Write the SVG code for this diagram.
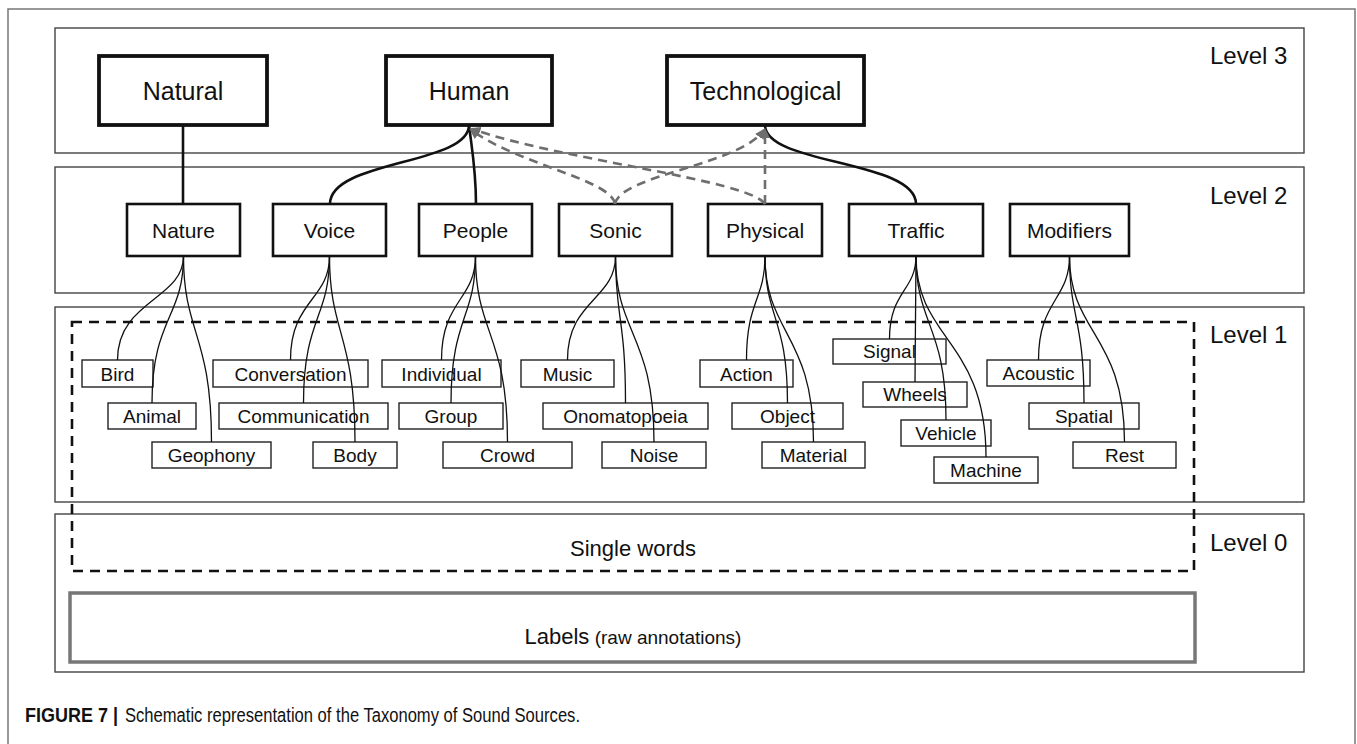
<svg xmlns="http://www.w3.org/2000/svg" width="1357" height="744" viewBox="0 0 1357 744">
<style>
text{font-family:"Liberation Sans",Arial,sans-serif;fill:#111}
.lvl{fill:none;stroke:#444;stroke-width:1.4}
.n3 rect{fill:#fff;stroke:#111;stroke-width:3.8}
.n3 text{font-size:25px;text-anchor:middle}
.n2 rect{fill:#fff;stroke:#111;stroke-width:2.6}
.n2 text{font-size:21px;text-anchor:middle}
.n1 rect{fill:#fff;stroke:#222;stroke-width:1.4}
.n1 text{font-size:19px;text-anchor:middle}
.lt{font-size:24px}
.solid{fill:none;stroke:#111;stroke-width:2.6}
.dash{fill:none;stroke:#6e6e6e;stroke-width:2.6;stroke-dasharray:9 6}
.thin{fill:none;stroke:#111;stroke-width:1.3}
</style>
<defs>
<marker id="ah" viewBox="0 0 10 10" refX="8" refY="5" markerWidth="4" markerHeight="4" orient="auto">
<path d="M0,0 L10,5 L0,10 z" fill="#6e6e6e"/>
</marker>
</defs>
<rect width="1357" height="744" fill="#fff"/>
<rect x="8" y="9" width="1347" height="760" fill="none" stroke="#777" stroke-width="1.5"/>
<g id="levels">
<rect class="lvl" x="55" y="28" width="1249" height="125"/>
<rect class="lvl" x="55" y="167" width="1249" height="126"/>
<rect class="lvl" x="55" y="307" width="1249" height="195"/>
<rect class="lvl" x="55" y="514" width="1249" height="158"/>
<text class="lt" x="1210" y="64">Level 3</text>
<text class="lt" x="1210" y="204">Level 2</text>
<text class="lt" x="1210" y="343">Level 1</text>
<text class="lt" x="1210" y="551">Level 0</text>
</g>
<g id="single-words">
<rect x="72" y="322" width="1122" height="249" fill="none" stroke="#111" stroke-width="2.6" stroke-dasharray="10 7"/>
<text x="633" y="556" font-size="22" text-anchor="middle">Single words</text>
</g>
<g id="labels">
<rect x="70" y="593" width="1125" height="69" fill="none" stroke="#777" stroke-width="3.5"/>
<text x="633" y="644" text-anchor="middle"><tspan font-size="22">Labels</tspan><tspan font-size="19"> (raw annotations)</tspan></text>
</g>
<g id="natural" class="n3"><rect x="99" y="56" width="168" height="69"/><text x="183" y="100">Natural</text></g>
<g id="human" class="n3"><rect x="386" y="56" width="166" height="69"/><text x="469" y="100">Human</text></g>
<g id="technological" class="n3"><rect x="667" y="56" width="197" height="69"/><text x="765.5" y="100">Technological</text></g>
<g id="nature" class="n2"><rect x="127" y="204" width="113" height="52"/><text x="183.5" y="238">Nature</text></g>
<g id="voice" class="n2"><rect x="273" y="204" width="113" height="52"/><text x="329.5" y="238">Voice</text></g>
<g id="people" class="n2"><rect x="419" y="204" width="113" height="52"/><text x="475.5" y="238">People</text></g>
<g id="sonic" class="n2"><rect x="559" y="204" width="113" height="52"/><text x="615.5" y="238">Sonic</text></g>
<g id="physical" class="n2"><rect x="708" y="204" width="114" height="52"/><text x="765" y="238">Physical</text></g>
<g id="traffic" class="n2"><rect x="849" y="204" width="134" height="52"/><text x="916" y="238">Traffic</text></g>
<g id="modifiers" class="n2"><rect x="1010" y="204" width="119" height="52"/><text x="1069.5" y="238">Modifiers</text></g>
<g id="bird" class="n1"><rect x="82" y="360" width="71" height="27"/><text x="117.5" y="381">Bird</text></g>
<g id="animal" class="n1"><rect x="108" y="403" width="88" height="26"/><text x="152" y="423">Animal</text></g>
<g id="geophony" class="n1"><rect x="152" y="442" width="119" height="26"/><text x="211.5" y="462">Geophony</text></g>
<g id="conversation" class="n1"><rect x="213" y="360" width="155" height="27"/><text x="290.5" y="381">Conversation</text></g>
<g id="communication" class="n1"><rect x="219" y="403" width="169" height="26"/><text x="303.5" y="423">Communication</text></g>
<g id="body" class="n1"><rect x="313" y="442" width="84" height="26"/><text x="355" y="462">Body</text></g>
<g id="individual" class="n1"><rect x="382" y="360" width="119" height="27"/><text x="441.5" y="381">Individual</text></g>
<g id="group" class="n1"><rect x="399" y="403" width="104" height="26"/><text x="451" y="423">Group</text></g>
<g id="crowd" class="n1"><rect x="443" y="442" width="129" height="26"/><text x="507.5" y="462">Crowd</text></g>
<g id="music" class="n1"><rect x="521" y="360" width="93" height="27"/><text x="567.5" y="381">Music</text></g>
<g id="onomatopoeia" class="n1"><rect x="543" y="403" width="165" height="26"/><text x="625.5" y="423">Onomatopoeia</text></g>
<g id="noise" class="n1"><rect x="602" y="442" width="104" height="26"/><text x="654" y="462">Noise</text></g>
<g id="action" class="n1"><rect x="700" y="360" width="93" height="27"/><text x="746.5" y="381">Action</text></g>
<g id="object" class="n1"><rect x="732" y="403" width="111" height="26"/><text x="787.5" y="423">Object</text></g>
<g id="material" class="n1"><rect x="762" y="442" width="103" height="26"/><text x="813.5" y="462">Material</text></g>
<g id="signal" class="n1"><rect x="833" y="339" width="113" height="25"/><text x="889.5" y="358">Signal</text></g>
<g id="wheels" class="n1"><rect x="863" y="382" width="104" height="25"/><text x="915" y="401">Wheels</text></g>
<g id="vehicle" class="n1"><rect x="901" y="420" width="90" height="26"/><text x="946" y="440">Vehicle</text></g>
<g id="machine" class="n1"><rect x="934" y="457" width="104" height="26"/><text x="986" y="477">Machine</text></g>
<g id="acoustic" class="n1"><rect x="987" y="360" width="103" height="26"/><text x="1038.5" y="380">Acoustic</text></g>
<g id="spatial" class="n1"><rect x="1029" y="403" width="110" height="26"/><text x="1084" y="423">Spatial</text></g>
<g id="rest" class="n1"><rect x="1073" y="442" width="103" height="26"/><text x="1124.5" y="462">Rest</text></g>
<g id="connectors">
<path class="solid" d="M183,125 L183,204"/>
<path class="solid" d="M469,125 C469,165 330,160 330,204"/>
<path class="solid" d="M469,125 C472,150 476,170 476,204"/>
<path class="solid" d="M765,125 C765,165 916,160 916,204"/>
<path class="dash" marker-end="url(#ah)" d="M615,204 C612,180 520,165 471,130"/>
<path class="dash" marker-end="url(#ah)" d="M765,204 C750,180 560,160 472,129"/>
<path class="dash" marker-end="url(#ah)" d="M615,204 C620,175 740,165 764,130"/>
<path class="dash" marker-end="url(#ah)" d="M765,204 L765,130"/>
<path class="thin" d="M183.5,256 C183.5,300 117.5,300 117.5,360"/>
<path class="thin" d="M183.5,256 C183.5,318 152,318 152,403"/>
<path class="thin" d="M183.5,256 C183.5,334 211.5,334 211.5,442"/>
<path class="thin" d="M329.5,256 C329.5,300 290.5,300 290.5,360"/>
<path class="thin" d="M329.5,256 C329.5,318 303.5,318 303.5,403"/>
<path class="thin" d="M329.5,256 C329.5,334 355,334 355,442"/>
<path class="thin" d="M475.5,256 C475.5,300 441.5,300 441.5,360"/>
<path class="thin" d="M475.5,256 C475.5,318 451,318 451,403"/>
<path class="thin" d="M475.5,256 C475.5,334 507.5,334 507.5,442"/>
<path class="thin" d="M615.5,256 C615.5,300 567.5,300 567.5,360"/>
<path class="thin" d="M615.5,256 C615.5,318 625.5,318 625.5,403"/>
<path class="thin" d="M615.5,256 C615.5,334 654,334 654,442"/>
<path class="thin" d="M765,256 C765,300 746.5,300 746.5,360"/>
<path class="thin" d="M765,256 C765,318 787.5,318 787.5,403"/>
<path class="thin" d="M765,256 C765,334 813.5,334 813.5,442"/>
<path class="thin" d="M916,256 C916,291 889.5,291 889.5,339"/>
<path class="thin" d="M916,256 L915,382"/>
<path class="thin" d="M916,256 C916,325 946,325 946,420"/>
<path class="thin" d="M916,256 C916,340 986,340 986,457"/>
<path class="thin" d="M1069.5,256 C1069.5,300 1038.5,300 1038.5,360"/>
<path class="thin" d="M1069.5,256 C1069.5,318 1084,318 1084,403"/>
<path class="thin" d="M1069.5,256 C1069.5,334 1124.5,334 1124.5,442"/>
</g>
<g id="caption">
<text x="25" y="722" font-size="20" font-weight="bold" textLength="93" lengthAdjust="spacingAndGlyphs">FIGURE 7 |</text>
<text x="125" y="722" font-size="20" textLength="455" lengthAdjust="spacingAndGlyphs">Schematic representation of the Taxonomy of Sound Sources.</text>
</g>
</svg>
